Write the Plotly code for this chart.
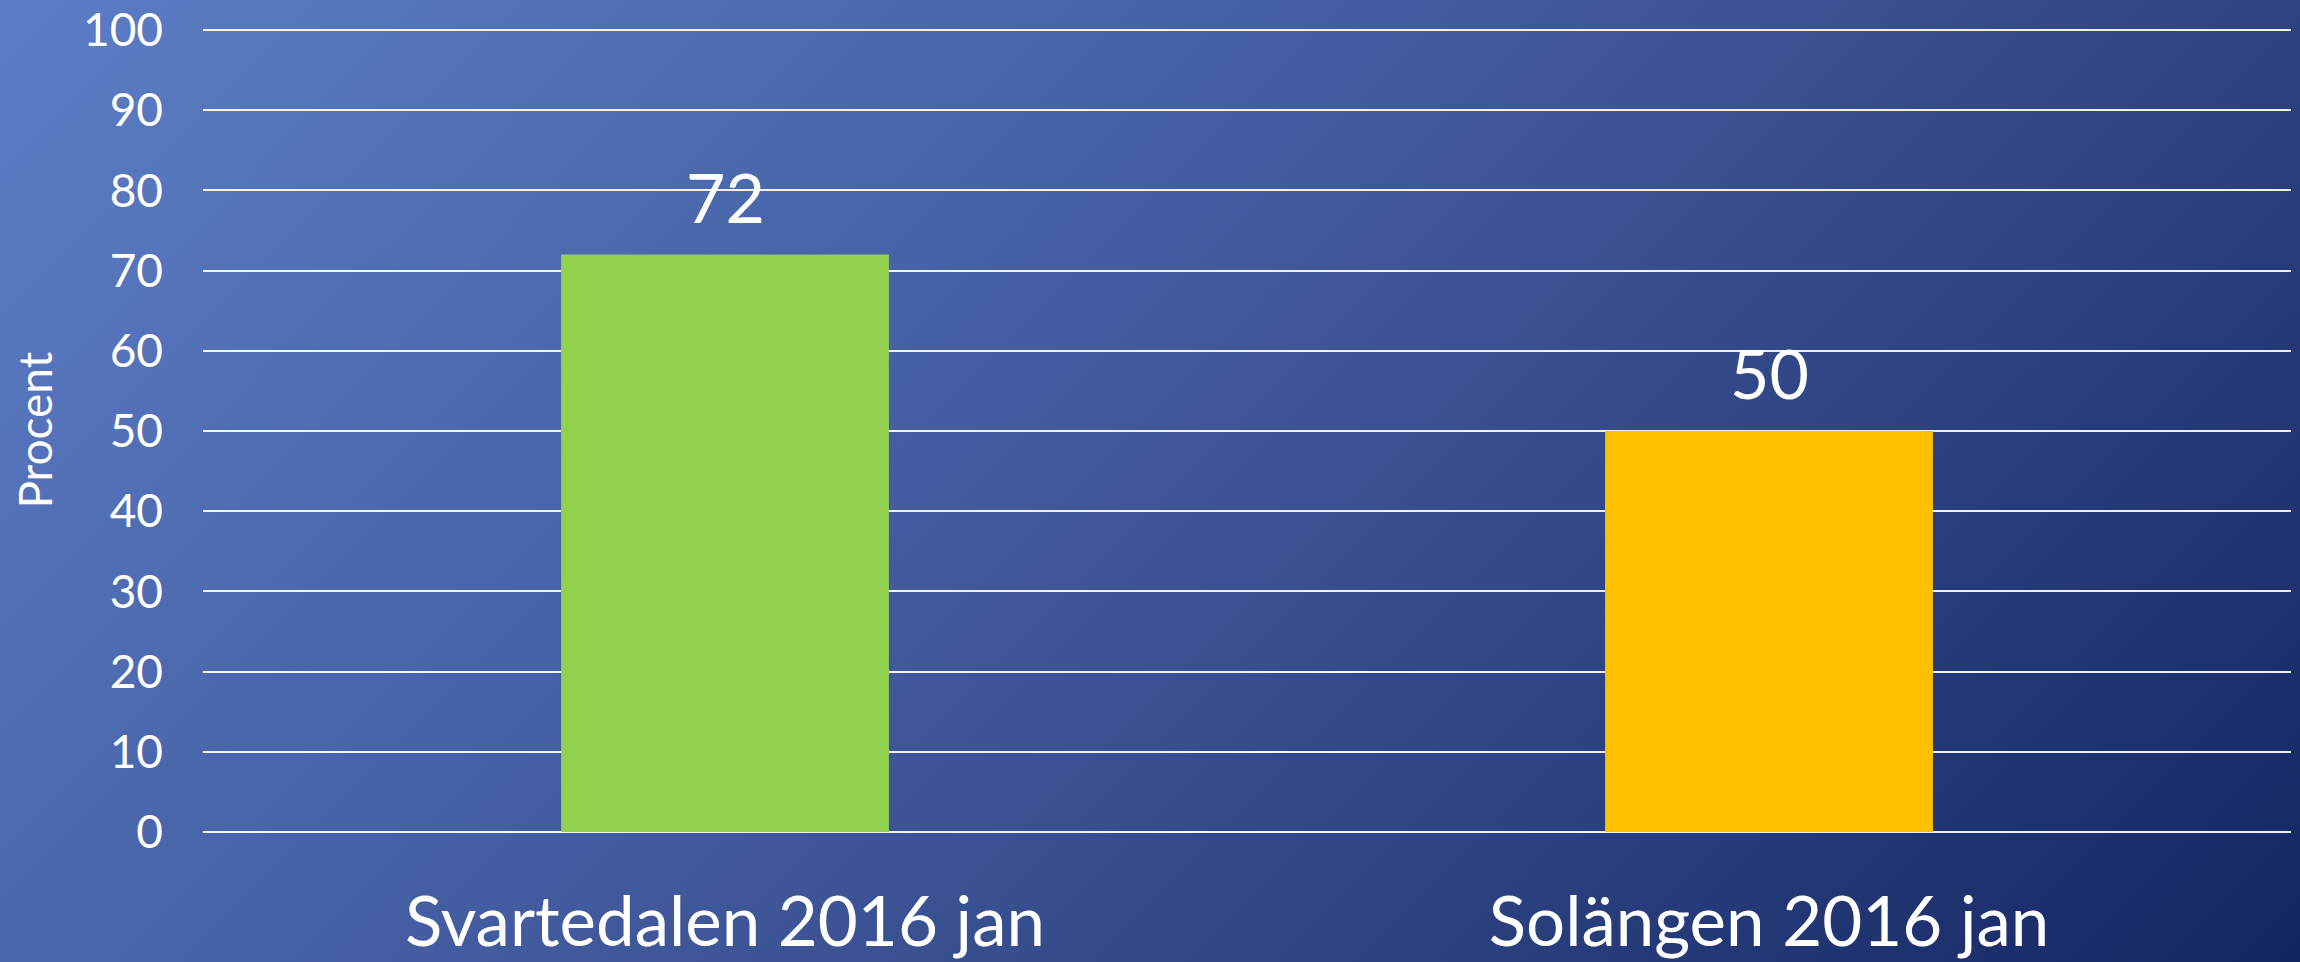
import base64
import plotly.graph_objects as go

# ---- data ----
categories = ["Svartedalen 2016 jan", "Solängen 2016 jan"]
values = [72, 50]
bar_colors = ["#92D050", "#FFC000"]
y_tick_vals = [0, 10, 20, 30, 40, 50, 60, 70, 80, 90, 100]
y_title = "Procent"

W, H = 2300, 962
FONT = "Lato, 'Open Sans', sans-serif"

# diagonal gradient background as an SVG image
svg = f"""<svg xmlns='http://www.w3.org/2000/svg' width='{W}' height='{H}' viewBox='0 0 {W} {H}' preserveAspectRatio='none'>
<defs><linearGradient id='g' gradientUnits='userSpaceOnUse' x1='0' y1='0' x2='{(W+H)/2}' y2='{(W+H)/2}'>
<stop offset='0' stop-color='#5C7EC7'/>
<stop offset='0.5' stop-color='#3F5799'/>
<stop offset='1' stop-color='#142662'/>
</linearGradient></defs>
<rect width='{W}' height='{H}' fill='url(#g)'/></svg>"""
bg_uri = "data:image/svg+xml;base64," + base64.b64encode(svg.encode()).decode()

Y_TOP = 100.2  # a hair above 100 so the top gridline is drawn
px_per_unit = (832 - 30) / 100.0
top_px = 832 - Y_TOP * px_per_unit

fig = go.Figure()
fig.add_trace(go.Bar(
    x=categories, y=values,
    marker=dict(color=bar_colors, line=dict(width=0)),
    hoverinfo="x+y",
))

for c, v in zip(categories, values):
    fig.add_annotation(
        x=c, y=v, xref="x", yref="y", text=str(v), showarrow=False,
        yanchor="bottom", yshift=16,
        font=dict(family=FONT, size=68, color="white"),
    )

fig.update_layout(
    width=W, height=H,
    margin=dict(l=0, r=0, t=0, b=0),
    paper_bgcolor="#3F5799",
    plot_bgcolor="rgba(0,0,0,0)",
    showlegend=False,
    bargap=0.686,
    font=dict(family=FONT, color="white"),
    images=[dict(source=bg_uri, xref="paper", yref="paper", x=0, y=1,
                 sizex=1, sizey=1, xanchor="left", yanchor="top",
                 sizing="stretch", layer="below")],
    xaxis=dict(
        domain=[203 / W, 2291 / W],
        showgrid=False, showline=False, zeroline=False, ticks="",
        tickfont=dict(family=FONT, size=69, color="white"),
        ticklabelstandoff=44,
        automargin=False,
    ),
    yaxis=dict(
        domain=[(H - 832) / H, (H - top_px) / H],
        range=[0, Y_TOP],
        tickvals=y_tick_vals,
        showgrid=True, gridcolor="rgba(255,255,255,0.92)", gridwidth=2,
        zeroline=True, zerolinecolor="rgba(255,255,255,0.92)", zerolinewidth=2,
        showline=False, ticks="",
        tickfont=dict(family=FONT, size=46, color="white"),
        ticklabelstandoff=39,
        title=dict(text=y_title, font=dict(family=FONT, size=46, color="white"), standoff=15),
        automargin=False,
    ),
)

fig.write_html(
    "out.html",
    config={"displayModeBar": False},
    post_script="document.body.style.margin='0';document.body.style.overflow='hidden';",
)
